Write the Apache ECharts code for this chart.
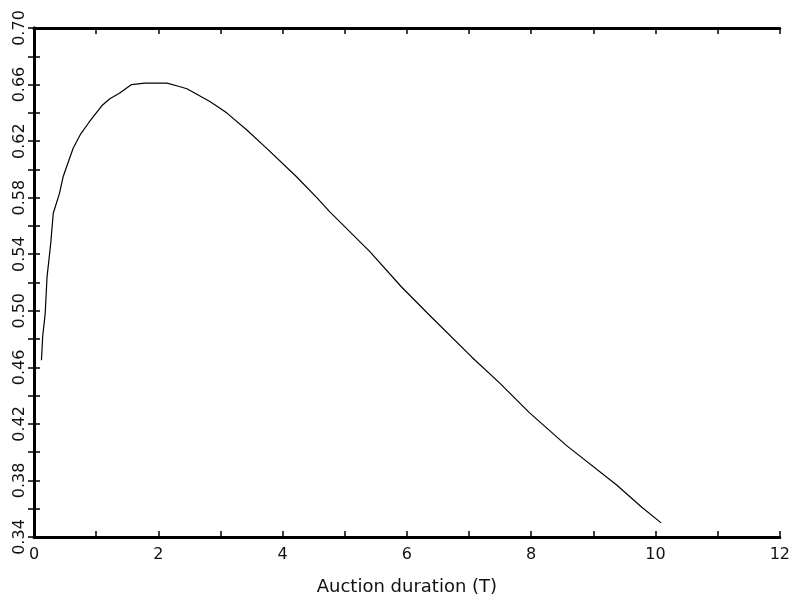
<!DOCTYPE html>
<html>
<head>
<meta charset="utf-8">
<script src="https://cdn.jsdelivr.net/npm/echarts@6/dist/echarts.min.js"></script>
<style>
html,body{margin:0;padding:0;background:#fff;}
#chart{width:793px;height:606px;}
</style>
</head>
<body>
<div id="chart"></div>
<script>
const durations = [0.12, 0.14, 0.18, 0.21, 0.27, 0.31, 0.41, 0.47, 0.59, 0.63, 0.75, 0.88, 1.09, 1.22, 1.38, 1.57, 1.78, 2.0, 2.14, 2.31, 2.46, 2.83, 3.10, 3.42, 3.74, 4.22, 4.55, 4.76, 5.40, 5.91, 6.36, 7.05, 7.49, 7.97, 8.56, 9.37, 9.78, 10.09];
const values = [0.465, 0.482, 0.498, 0.524, 0.548, 0.569, 0.583, 0.595, 0.610, 0.615, 0.625, 0.633, 0.645, 0.650, 0.654, 0.660, 0.661, 0.661, 0.661, 0.659, 0.657, 0.648, 0.640, 0.628, 0.615, 0.595, 0.580, 0.570, 0.542, 0.517, 0.497, 0.467, 0.449, 0.428, 0.405, 0.377, 0.361, 0.350];
const xTickLabels = ['0', '2', '4', '6', '8', '10', '12'];
const yTickLabels = ['0.34', '0.38', '0.42', '0.46', '0.50', '0.54', '0.58', '0.62', '0.66', '0.70'];
const xTitle = 'Auction duration (T)';

const chart = echarts.init(document.getElementById('chart'), null, {renderer: 'canvas'});
const font = 'DejaVu Sans';
const frameLine = {show: true, lineStyle: {color: '#000', width: 3}};
const tickStyle = {show: true, inside: true, length: 6, lineStyle: {color: '#000', width: 1.5}};

chart.setOption({
  animation: false,
  backgroundColor: '#fff',
  grid: {left: 34, right: 12, top: 28, bottom: 69, containLabel: false},
  xAxis: [{
    type: 'value', min: 0, max: 12, interval: 1, position: 'bottom',
    axisLine: frameLine, axisTick: tickStyle, splitLine: {show: false},
    axisLabel: {
      color: '#111', fontFamily: font, fontSize: 16, margin: 10,
      formatter: function (v) {
        const r = Math.round(v);
        return r % 2 === 0 ? xTickLabels[r / 2] : '';
      }
    },
    name: xTitle, nameLocation: 'middle', nameGap: 41,
    nameTextStyle: {color: '#111', fontFamily: font, fontSize: 18}
  }, {
    type: 'value', min: 0, max: 12, interval: 1, position: 'top',
    axisLine: frameLine, axisTick: tickStyle, axisLabel: {show: false}, splitLine: {show: false}
  }],
  yAxis: [{
    type: 'value', min: 0.34, max: 0.70, interval: 0.02, position: 'left',
    axisLine: frameLine, axisTick: tickStyle, splitLine: {show: false},
    axisLabel: {
      color: '#111', fontFamily: font, fontSize: 16, rotate: 90, margin: 6,
      formatter: function (v) {
        const k = Math.round(v * 100);
        return (k - 34) % 4 === 0 ? yTickLabels[(k - 34) / 4] : '';
      }
    }
  }, {
    type: 'value', min: 0.34, max: 0.70, interval: 0.02, position: 'right',
    axisLine: frameLine, axisTick: tickStyle, axisLabel: {show: false}, splitLine: {show: false}
  }],
  series: [{
    type: 'line',
    data: durations.map((d, i) => [d, values[i]]),
    showSymbol: false, symbol: 'none', smooth: false,
    lineStyle: {color: '#000', width: 1.2},
    xAxisIndex: 0, yAxisIndex: 0
  }]
});
</script>
</body>
</html>
